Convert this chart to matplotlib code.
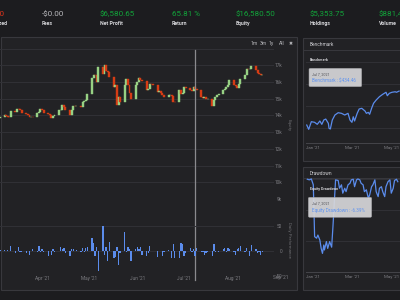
import matplotlib
matplotlib.use('Agg')
import matplotlib.pyplot as plt
import matplotlib.dates as mdates
from matplotlib.patches import Rectangle, FancyBboxPatch
import pandas as pd
import numpy as np

plt.rcParams['font.family'] = ['Roboto', 'DejaVu Sans']

W, H = 400, 300

# ---------------- data ----------------
stat_values = ['$0.00', '-$0.00', '$6,580.65', '65.81 %', '$16,580.50', '$5,353.75', '$881,402.25']
stat_labels = ['Unrealized', 'Fees', 'Net Profit', 'Return', 'Equity', 'Holdings', 'Volume']
stat_kind = ['neg', 'neutral', 'pos', 'pos', 'pos', 'pos', 'pos']

trade_dates = pd.bdate_range('2021-03-05', '2021-08-20')
equity_close = [13900, 14000, 13950, 13920, 13900, 14240, 14220, 14400, 14380, 14300,
                14160, 14100, 14000, 13900, 13920, 13900, 14160, 14200, 14360, 14300,
                14160, 14100, 14000, 13840, 13950, 14000, 14300, 14350, 14640, 14500,
                14300, 14000, 14300, 14560, 14550, 14560, 14500, 14800, 14850, 14950,
                15250, 16240, 16440, 16400, 16000, 16900, 16500, 17040, 16640, 16600,
                16300, 15700, 15800, 14600, 15100, 14780, 15840, 16160, 15840, 15360,
                15000, 15800, 16000, 16250, 16100, 16050, 15500, 15600, 15900, 15850,
                15800, 15400, 15450, 15350, 15200, 15100, 15200, 15200, 15150, 14800,
                14780, 15500, 15300, 15350, 15700, 15650, 15500, 15450, 15700, 15600,
                15500, 15100, 15050, 15100, 15000, 15000, 14560, 14900, 15100, 15240,
                15300, 15500, 15600, 15700, 15840, 16100, 15800, 15750, 15640, 15900,
                16200, 16440, 16800, 16750, 16800, 16960, 16700, 16560, 16500, 16440,
                16440]
equity_first_open = 13850
daily_perf = [2, 1, 0, 1, 0, 10, -5, 0, 7, -3,
              -2, -4, 0, -8, 0, 3, -2, 10, -2, 3,
              -3, -10, 0, -8, 4, -3, 0, 8, 4, 5,
              -5, -10, 3, 4, 0, 2, -3, 6, -3, 5,
              8, 25, 15, -10, 8, -40, 50, -8, 8, -20,
              18, -15, -12, 7, -28, -5, 38, -3, 8, 3,
              -20, 3, 8, 3, 8, -8, -10, -5, 10, 0,
              0, -12, 0, 0, -10, -3, 2, 0, -15, 13,
              -15, -15, 15, 13, -10, -5, 6, -3, 3, -10,
              6, -2, -3, -8, -5, -2, -10, 13, -3, 0,
              -3, 3, 6, -2, 5, 3, -3, -8, 4, 6,
              10, -3, 6, 0, -10, 12, 3, -5, -2, -8,
              -3]
equity_ticks = [9000, 10000, 11000, 12000, 13000, 14000, 15000, 16000, 17000, 18000]
equity_ticklabels = ['9k', '10k', '11k', '12k', '13k', '14k', '15k', '16k', '17k', '']
perf_ticks = [-50, 0, 50]
hover_date = '2021-07-07'

bench_dates = ['2020-12-22', '2020-12-25', '2020-12-29', '2021-01-03', '2021-01-07', '2021-01-11',
               '2021-01-14', '2021-01-17', '2021-01-20', '2021-01-24', '2021-01-25', '2021-01-27',
               '2021-01-30', '2021-02-03', '2021-02-08', '2021-02-13', '2021-02-18', '2021-02-23',
               '2021-02-26', '2021-03-01', '2021-03-03', '2021-03-05', '2021-03-09', '2021-03-12',
               '2021-03-16', '2021-03-21', '2021-03-23', '2021-03-26', '2021-03-28', '2021-03-31',
               '2021-04-03', '2021-04-07', '2021-04-12', '2021-04-17', '2021-04-22', '2021-04-24',
               '2021-04-27', '2021-05-01', '2021-05-06', '2021-05-08', '2021-05-12']
bench_values = [378.4, 373.5, 382.2, 381.5, 379.2, 383.0,
                379.2, 384.1, 385.2, 380.3, 374.7, 373.9,
                384.1, 389.8, 392.4, 391.7, 389.8, 391.7,
                384.1, 381.5, 387.8, 383.0, 391.7, 396.6,
                397.4, 394.3, 391.7, 392.8, 390.6, 397.4,
                403.1, 406.8, 410.6, 413.3, 415.6, 411.7,
                414.4, 415.6, 416.2, 415.6, 417.0]
bench_grid = [375, 400, 425, 450]

dd_dates = ['2020-12-23', '2020-12-26', '2020-12-29', '2021-01-01', '2021-01-02', '2021-01-03',
            '2021-01-06', '2021-01-08', '2021-01-11', '2021-01-13', '2021-01-15', '2021-01-17',
            '2021-01-18', '2021-01-21', '2021-01-23', '2021-01-26', '2021-01-29', '2021-01-31',
            '2021-02-02', '2021-02-04', '2021-02-08', '2021-02-10', '2021-02-13', '2021-02-15',
            '2021-02-18', '2021-02-20', '2021-02-23', '2021-02-26', '2021-02-28', '2021-03-03',
            '2021-03-05', '2021-03-08', '2021-03-10', '2021-03-13', '2021-03-15', '2021-03-18',
            '2021-03-20', '2021-03-23', '2021-03-26', '2021-03-28', '2021-03-31', '2021-04-02',
            '2021-04-05', '2021-04-07', '2021-04-10', '2021-04-12', '2021-04-15', '2021-04-17',
            '2021-04-20', '2021-04-22', '2021-04-25', '2021-04-28', '2021-04-30', '2021-05-03',
            '2021-05-05', '2021-05-08', '2021-05-10']
dd_values = [-0.1, -0.3, 0.0, -1.9, -10.0, -18.6,
             -19.1, -18.1, -19.7, -22.4, -24.0, -21.3,
             -22.9, -20.2, -22.4, -20.2, -22.0, -15.4,
             -7.8, -0.3, -0.5, -3.0, -1.9, -4.6,
             -3.0, -4.1, -1.9, -1.4, -0.3, -0.1,
             -2.5, -0.3, 0.0, -0.3, -1.4, -1.9,
             -4.1, -3.5, -6.2, -5.2, -2.5, -1.9,
             -0.3, -4.1, -5.7, -3.0, -2.5, -4.1,
             -5.7, -2.5, -0.9, -0.3, -4.6, -3.0,
             -0.5, -0.1, -0.9]
dd_grid = [-30, -20, -10, 0]

# ---------------- style ----------------
PAGE = '#1c1c1f'
PANEL = '#222225'
BORDER = '#38383d'
GRID = '#313136'
TICK = '#7d7d82'
GREEN = '#12a33a'
RED = '#e0341c'
UP = '#97d184'
DOWN = '#d63c14'
BLUE = '#5b8cec'

fig = plt.figure(figsize=(W / 100, H / 100), dpi=100, facecolor=PAGE)


def rect(x0, y0, x1, y1):
    return [x0 / W, 1 - y1 / H, (x1 - x0) / W, (y1 - y0) / H]


def ftext(x, y, s, **kw):
    return fig.text(x / W, 1 - y / H, s, **kw)


def panel(x0, y0, x1, y1):
    fig.patches.append(Rectangle((x0 / W, 1 - y1 / H), (x1 - x0) / W, (y1 - y0) / H,
                                 transform=fig.transFigure, facecolor=PANEL,
                                 edgecolor=BORDER, linewidth=0.8, zorder=-5))


def hline(x0, x1, y):
    fig.add_artist(plt.Line2D([x0 / W, x1 / W], [1 - y / H, 1 - y / H],
                              transform=fig.transFigure, color=BORDER, lw=0.7, zorder=-4))


# ---------------- top stats ----------------
stat_x = [4.5, 41.5, 100, 172, 236, 310, 379]
for i, (v, lab, k) in enumerate(zip(stat_values, stat_labels, stat_kind)):
    col = {'neg': RED, 'neutral': '#b9b9bd', 'pos': GREEN}[k]
    ha = 'right' if i == 0 else 'left'
    lx = stat_x[i] + (3.5 if i == 0 else 0)
    ftext(stat_x[i], 14, v, color=col, fontsize=5.8, ha=ha, va='center')
    ftext(lx, 23.3, lab, color='#d4d4d8', fontsize=3.8, ha=ha, va='center',
          fontweight='bold')

# ---------------- panels ----------------
panel(0.5, 37, 297, 290)
panel(303, 38, 412, 161)
panel(303, 167, 412, 290)
hline(303, 400, 50)
hline(303, 400, 177.5)

# ---------------- main chart ----------------
dnum = mdates.date2num(trade_dates)
closes = np.array(equity_close, dtype=float)
opens = np.concatenate([[equity_first_open], closes[:-1]])
px_per_day = 1.562
x_left = mdates.date2num(pd.Timestamp('2021-03-05')) + 0.1
x_right = x_left + 274 / px_per_day

ax1 = fig.add_axes(rect(0, 48.5, 274, 199))
ax1.set_facecolor('none')
h = closes - opens
cols = [UP if c >= o else DOWN for o, c in zip(opens, closes)]
ax1.bar(dnum, h, bottom=opens, width=1.25, color=cols, edgecolor=cols,
        linewidth=0.3, zorder=3)
ax1.set_xlim(x_left, x_right)
ax1.set_ylim(9000, 18000)
ax1.set_yticks(equity_ticks)
ax1.set_yticklabels(equity_ticklabels)
ax1.yaxis.tick_right()
ax1.tick_params(axis='y', length=0, pad=5.8, labelsize=3.4, labelcolor=TICK)
for t in ax1.get_yticklabels():
    t.set_ha('right')
ax1.set_xticks([])
ax1.grid(axis='y', color=GRID, lw=0.7)
ax1.set_axisbelow(True)
for s in ax1.spines.values():
    s.set_visible(False)

ax2 = fig.add_axes(rect(0, 226, 274, 275.5))
ax2.set_facecolor('none')
ax2.bar(dnum, daily_perf, width=0.85, color=BLUE, zorder=3)
ax2.set_xlim(x_left, x_right)
ax2.set_ylim(-50, 50)
ax2.set_yticks(perf_ticks)
ax2.set_yticklabels([str(v) for v in perf_ticks])
ax2.yaxis.tick_right()
ax2.tick_params(axis='y', length=0, pad=5.8, labelsize=3.4, labelcolor=TICK)
for t in ax2.get_yticklabels():
    t.set_ha('right')
ax2.xaxis.set_major_locator(mdates.MonthLocator())
ax2.xaxis.set_major_formatter(mdates.DateFormatter("%b '%y"))
ax2.tick_params(axis='x', length=0, pad=0.6, labelsize=3.4, labelcolor=TICK)
ax2.grid(axis='y', color=GRID, lw=0.7)
ax2.set_axisbelow(True)
for s in ax2.spines.values():
    s.set_visible(False)
ax2.text(mdates.date2num(pd.Timestamp('2021-09-01')), -50, "Sep '21",
         transform=ax2.transData, fontsize=3.4, color=TICK, ha='center',
         va='top', clip_on=False)

# crosshair
hx = mdates.date2num(pd.Timestamp(hover_date)) + 0.8
ax1.axvline(hx, ymin=(199 - 280) / 150.5, ymax=(199 - 50) / 150.5, color='#8a8a8e',
            lw=0.9, clip_on=False, zorder=5)

# axis titles
ftext(289, 125, 'Equity', rotation=270, fontsize=3.2, color='#6c6c70', ha='center', va='center')
ftext(289, 240, 'Daily Performance', rotation=270, fontsize=3.2, color='#6c6c70',
      ha='center', va='center')

# range selector
for lab, xx in zip(['1m', '3m', '1y', 'All'], [250.5, 259.5, 269, 278.5]):
    ftext(xx, 43.5, lab, fontsize=3.6, color='#b8b8bc', ha='left', va='center')
ftext(290.5, 43.5, '\u2716', fontsize=3.4, color='#b8b8bc', ha='center', va='center')


# ---------------- right panels ----------------
def right_axes(y0, y1):
    ax = fig.add_axes(rect(306, y0, 430, y1))
    ax.set_facecolor('none')
    xl = mdates.date2num(pd.Timestamp('2021-01-01')) - (313.3 - 306) / 0.655
    ax.set_xlim(xl, xl + 124 / 0.655)
    ax.xaxis.set_major_locator(mdates.MonthLocator(bymonth=[1, 3, 5, 7]))
    ax.xaxis.set_major_formatter(mdates.DateFormatter("%b '%y"))
    ax.tick_params(axis='x', length=0, pad=2.0, labelsize=3.2, labelcolor=TICK)
    ax.set_yticklabels([])
    ax.tick_params(axis='y', length=0)
    ax.grid(axis='y', color=GRID, lw=0.7)
    ax.set_axisbelow(True)
    for k, s in ax.spines.items():
        s.set_visible(k == 'bottom')
    ax.spines['bottom'].set_color('#45454a')
    ax.spines['bottom'].set_linewidth(0.7)
    return ax


ftext(309.5, 44.2, 'Benchmark', fontsize=3.4, color='#d0d0d4', ha='left', va='center')
ftext(309.5, 60, 'Benchmark', fontsize=2.6, color='#d8d8dc', ha='left', va='center',
      fontweight='bold')
ax3 = right_axes(62, 143)
ax3.plot(mdates.date2num(pd.to_datetime(bench_dates)), bench_values, color=BLUE, lw=0.9)
ax3.set_ylim(358, 450)
ax3.set_yticks(bench_grid)
ax3.set_yticklabels([])

ftext(309.5, 173.3, 'Drawdown', fontsize=3.4, color='#d0d0d4', ha='left', va='center')
ax4 = right_axes(178, 272)
ax4.plot(mdates.date2num(pd.to_datetime(dd_dates)), dd_values, color=BLUE, lw=0.9)
ax4.set_ylim(-30, 0.3)
ax4.set_yticks(dd_grid)
ax4.set_yticklabels([])
ftext(309.5, 189, 'Equity Drawdown', fontsize=2.6, color='#d8d8dc', ha='left',
      va='center', fontweight='bold', zorder=6)


def tooltip(x0, y0, x1, y1, date_s, series_s):
    fig.patches.append(FancyBboxPatch((x0 / W, 1 - y1 / H), (x1 - x0) / W, (y1 - y0) / H,
                                      boxstyle='round,pad=0,rounding_size=0.004',
                                      transform=fig.transFigure, facecolor='#d7d7da',
                                      edgecolor='#9a9a9e', linewidth=0.4, alpha=0.92,
                                      zorder=10))
    ftext(x0 + 3.5, y0 + 6, date_s, fontsize=2.6, color='#505055', ha='left',
          va='center', zorder=11)
    ftext(x0 + 3.5, y0 + 13, series_s, fontsize=3.3, color='#5f93f0', ha='left',
          va='center', zorder=11)


tooltip(309, 68.3, 361.7, 86.7, 'Jul 7, 2021', 'Benchmark : $434.46')
tooltip(308.3, 197.3, 371.7, 217.3, 'Jul 7, 2021', 'Equity Drawdown : -6.39%')

fig.savefig('out.png', dpi=100, facecolor=PAGE)
